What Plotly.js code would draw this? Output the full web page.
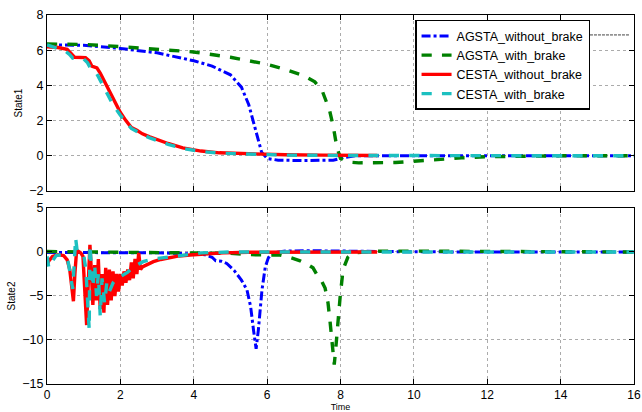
<!DOCTYPE html>
<html><head><meta charset="utf-8">
<script src="https://cdn.plot.ly/plotly-3.0.1.min.js"></script>
<style>html,body{margin:0;padding:0;background:#fff}#chart{width:642px;height:412px}</style>
</head><body><div id="chart"></div>
<script>
// ---- Data ----
const seriesNames = ["AGSTA_without_brake", "AGSTA_with_brake", "CESTA_without_brake", "CESTA_with_brake"];
const xTicks = [0, 2, 4, 6, 8, 10, 12, 14, 16];
const y1Ticks = [-2, 0, 2, 4, 6, 8];
const y2Ticks = [-15, -10, -5, 0, 5];

// State1
const s1_agstaNoBrake_t = [0, 1, 2, 3, 4, 4.5, 5, 5.3, 5.5, 5.7, 5.85, 6.0, 6.3, 7, 7.8, 8.1, 8.4, 10, 12, 14, 16];
const s1_agstaNoBrake_v = [6.3, 6.28, 6.1, 5.85, 5.4, 5.1, 4.6, 3.9, 2.9, 1.3, 0.2, -0.15, -0.25, -0.27, -0.25, -0.1, 0, 0, 0, 0, 0];
const s1_agstaBrake_t = [0, 1, 2, 3, 4, 5, 6, 6.5, 7, 7.3, 7.5, 7.7, 7.8, 7.9, 8.0, 8.2, 8.5, 9.5, 10.2, 10.8, 11.3, 12, 14, 16];
const s1_agstaBrake_v = [6.35, 6.33, 6.2, 6.05, 5.9, 5.6, 5.2, 4.9, 4.55, 4.2, 3.7, 2.6, 1.7, 0.5, -0.15, -0.35, -0.4, -0.38, -0.27, -0.18, -0.12, -0.05, 0, 0];
const s1_cestaNoBrake_t = [0, 0.3, 0.55, 0.68, 0.75, 1.05, 1.15, 1.22, 1.36, 1.45, 1.55, 1.7, 1.8, 2.0, 2.15, 2.3, 2.45, 2.6, 2.8, 3.0, 3.3, 3.7, 4.2, 4.7, 5.5, 6.5, 7.5, 9.0];
const s1_cestaNoBrake_v = [6.2, 6.15, 6.05, 5.8, 5.6, 5.58, 5.4, 5.1, 5.0, 4.7, 4.3, 3.7, 3.2, 2.46, 2.0, 1.6, 1.45, 1.25, 1.08, 0.91, 0.7, 0.45, 0.27, 0.17, 0.1, 0.06, 0.04, 0.02];
const s1_cestaBrake_t = [0, 0.3, 0.5, 0.62, 0.7, 1.0, 1.1, 1.18, 1.3, 1.4, 1.5, 1.65, 1.8, 2.0, 2.15, 2.3, 2.45, 2.6, 2.8, 3.0, 3.3, 3.7, 4.2, 4.7, 5.5, 6.5, 8, 10, 12, 16];
const s1_cestaBrake_v = [6.3, 6.1, 5.95, 5.75, 5.55, 5.5, 5.3, 5.0, 4.85, 4.5, 4.1, 3.4, 2.9, 2.3, 1.9, 1.55, 1.38, 1.2, 1.02, 0.86, 0.65, 0.42, 0.25, 0.15, 0.08, 0.04, 0.02, 0.01, 0, 0];

// State2
const s2_agstaNoBrake_t = [0, 1, 2, 3, 3.5, 4, 4.3, 4.5, 4.6, 4.75, 4.9, 5.1, 5.3, 5.45, 5.55, 5.63, 5.7, 5.76, 5.86, 5.95, 6.03, 6.15, 6.5, 7, 8, 9, 10, 12, 16];
const s2_agstaNoBrake_v = [-0.05, -0.05, -0.08, -0.1, -0.15, -0.2, -0.3, -0.6, -1.0, -1.05, -1.3, -2.1, -3.2, -4.3, -6.2, -8.9, -11, -8.9, -4.3, -1.7, -0.7, -0.1, 0.1, 0.15, 0.1, 0.05, 0.02, 0, 0];
const s2_agstaBrake_t = [0, 2, 4, 5, 5.5, 6.0, 6.35, 6.6, 6.9, 7.1, 7.25, 7.36, 7.45, 7.58, 7.66, 7.72, 7.78, 7.83, 7.87, 7.92, 7.99, 8.07, 8.2, 8.35, 9, 10, 12, 16];
const s2_agstaBrake_v = [0.05, 0, -0.05, -0.15, -0.3, -0.3, -0.35, -0.6, -1.0, -1.4, -1.8, -2.6, -3.0, -4.1, -5.8, -8.1, -11, -12.8, -11, -8, -5.1, -2.0, -0.6, -0.1, 0.1, 0.1, 0.05, 0];
const s2_cestaNoBrake_t = [0, 0.05, 0.15, 0.3, 0.45, 0.55, 0.62, 0.68, 0.72, 0.76, 0.8, 0.85, 0.92, 0.98, 1.03, 1.08, 1.13, 1.17, 1.2, 1.25, 1.3, 1.35, 1.4, 1.45, 1.5, 1.55, 1.6, 1.65, 1.7, 1.75, 1.8, 1.85, 1.9, 1.95, 2.0, 2.05, 2.1, 2.15, 2.2, 2.25, 2.3, 2.35, 2.4, 2.45, 2.5, 2.55, 2.6, 2.7, 2.9, 3.1, 3.3, 3.6, 3.9, 4.3, 4.8, 5.5, 6.5, 7.5, 9];
const s2_cestaNoBrake_v = [-1.5, -1.0, -0.5, -0.3, -0.4, -0.9, -2.0, -4.5, -5.6, -2.5, -0.2, 0.1, -0.1, -0.5, -4.5, -8.3, -3.0, 0.8, -1.5, -6.0, -1.5, -5.5, -0.8, -6.5, -2.5, -6.9, -1.8, -6.0, -2.0, -5.5, -2.2, -5.0, -2.5, -4.5, -2.5, -3.8, -2.2, -3.5, -2.0, -3.2, -1.2, -3.0, -0.8, -2.5, -0.1, -2.0, -1.7, -1.5, -1.1, -0.85, -0.7, -0.45, -0.35, -0.2, -0.1, -0.03, 0, 0.02, 0];
const s2_cestaBrake_t = [0, 0.05, 0.12, 0.25, 0.4, 0.5, 0.58, 0.64, 0.7, 0.74, 0.78, 0.82, 0.9, 1.0, 1.06, 1.12, 1.15, 1.17, 1.2, 1.25, 1.3, 1.35, 1.4, 1.45, 1.5, 1.57, 1.63, 1.7, 1.8, 1.9, 2.0, 2.1, 2.2, 2.35, 2.5, 2.62, 2.8, 3.08, 3.5, 4.2, 5, 6, 8, 16];
const s2_cestaBrake_v = [-0.5, -1.8, -1.2, -0.4, -0.3, -0.5, -1.2, -2.5, -4.2, -1.5, 1.6, 0.2, 0, -0.3, -2.0, -6.0, -8.8, 0.8, -1.2, -4.0, -1.5, -5.0, -2.5, -7.2, -3.0, -5.8, -3.5, -4.5, -3.5, -3.0, -2.8, -2.5, -2.3, -1.7, -1.4, -1.1, -0.9, -0.7, -0.5, -0.1, 0, 0, 0, 0];

// ---- Styles ----
const colors = ["#0000FF", "#008000", "#FF0000", "#1CC0C0"];
const dashes = ["dashdot", "dash", "solid", "dash"];
const widths = [3, 3.4, 3.4, 3.4];
const FONT = "Liberation Sans, Arial, Helvetica, sans-serif";

function tr(t, v, i, ax, show) {
  return {x: t, y: v, type: "scatter", mode: "lines", name: seriesNames[i],
    xaxis: ax[0], yaxis: ax[1], showlegend: show,
    line: {color: colors[i], dash: dashes[i], width: widths[i]}};
}
const data = [
  tr(s1_agstaNoBrake_t, s1_agstaNoBrake_v, 0, ["x", "y"], true),
  tr(s1_agstaBrake_t, s1_agstaBrake_v, 1, ["x", "y"], true),
  tr(s1_cestaNoBrake_t, s1_cestaNoBrake_v, 2, ["x", "y"], true),
  tr(s1_cestaBrake_t, s1_cestaBrake_v, 3, ["x", "y"], true),
  tr(s2_agstaNoBrake_t, s2_agstaNoBrake_v, 0, ["x2", "y2"], false),
  tr(s2_agstaBrake_t, s2_agstaBrake_v, 1, ["x2", "y2"], false),
  tr(s2_cestaNoBrake_t, s2_cestaNoBrake_v, 2, ["x2", "y2"], false),
  tr(s2_cestaBrake_t, s2_cestaBrake_v, 3, ["x2", "y2"], false)
];

const axBase = {
  showline: true, mirror: "ticks", linecolor: "#000", linewidth: 1,
  ticks: "inside", ticklen: 5, tickcolor: "#000",
  showgrid: true, gridcolor: "#ababab", griddash: "dot", gridwidth: 1,
  zeroline: false, tickfont: {family: FONT, size: 12.5, color: "#000"}
};
const layout = {
  width: 642, height: 412,
  margin: {l: 47, r: 8, t: 15, b: 28},
  paper_bgcolor: "#fff", plot_bgcolor: "#fff",
  font: {family: FONT, color: "#000"},
  showlegend: true,
  legend: {x: 0.627, y: 0.987, xanchor: "left", yanchor: "top",
    bgcolor: "#fff", bordercolor: "#000", borderwidth: 1.5,
    font: {family: FONT, size: 12.5, color: "#000"}, tracegroupgap: 0, itemwidth: 30},
  xaxis: Object.assign({}, axBase, {domain: [0, 1], range: [0, 16], tickvals: xTicks, showticklabels: false, anchor: "y"}),
  yaxis: Object.assign({}, axBase, {domain: [0.523, 1], range: [-2, 8], tickvals: y1Ticks, anchor: "x",
    title: {text: "State1", font: {family: FONT, size: 10}, standoff: 4}}),
  xaxis2: Object.assign({}, axBase, {domain: [0, 1], range: [0, 16], tickvals: xTicks, anchor: "y2",
    tickfont: {family: FONT, size: 12, color: "#000"},
    title: {text: "Time", font: {family: FONT, size: 9}, standoff: 3}}),
  yaxis2: Object.assign({}, axBase, {domain: [0, 0.477], range: [-15, 5], tickvals: y2Ticks, anchor: "x2",
    title: {text: "State2", font: {family: FONT, size: 10}, standoff: 4}}),
  shapes: [{type: "line", xref: "paper", yref: "paper", x0: 0.925, x1: 0.993, y0: 0.946, y1: 0.946,
    line: {color: "#444", width: 1, dash: "3px,1px"}}]
};
Plotly.newPlot("chart", data, layout, {displayModeBar: false, staticPlot: true});
</script></body></html>
